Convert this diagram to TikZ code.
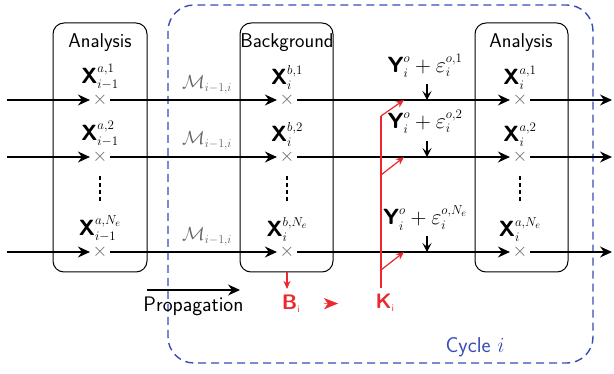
\RequirePackage{fix-cm}
\documentclass[tikz,border=0pt]{standalone}
\usepackage{amsmath, amssymb}
\usepackage{fontspec}
\usepackage{tikz}
\usetikzlibrary{
arrows.meta,
positioning,
calc
}
\definecolor{cycblue}{RGB}{55,75,185}
\definecolor{kfred}{RGB}{235,40,45}
\definecolor{modgray}{RGB}{100,100,100}
\DeclareMathSizes{22}{22}{13}{10}
\DeclareMathSizes{19}{19}{12}{9}
\newcommand{\bX}{\textsf{\textbf{X}}}
\newcommand{\bY}{\textsf{\textbf{Y}}}
\newcommand{\fsz}[1]{\fontsize{#1}{#1}\selectfont}

\begin{document}
\begin{tikzpicture}[x=1pt, y=-1pt, font=\sffamily,
  every node/.style={inner sep=1pt},
  stagebox/.style={draw, rounded corners=11pt, line width=1pt},
  boxtitle/.style={font=\fsz{20}\sffamily, anchor=base},
  member/.style={font=\fsz{19}, text=modgray, inner sep=2.5pt},
  state/.style={font=\fsz{22}},
  model/.style={font=\fsz{19}, text=modgray},
  flow/.style={-{Stealth[length=12pt, width=11pt, inset=4pt]}, line width=1.1pt},
  obsflow/.style={-{Stealth[length=9pt, width=9pt, inset=4pt]}, line width=1.1pt},
  redflow/.style={kfred, -{Stealth[length=8pt, width=7pt, inset=2.5pt]}, line width=1.2pt},
  ensdots/.style={dash pattern=on 4pt off 3pt, line width=1.3pt}
]
  \useasboundingbox (0,0) rectangle (614,374);
  % Cycle frame
  \draw[cycblue, dash pattern=on 8pt off 5pt, line width=1.4pt, rounded corners=26pt]
    (168,5) rectangle (593,363);
  \node[cycblue, font=\fsz{21.5}\sffamily] (cyc) at (475,347) {Cycle $i$};
  % Stage boxes
  \draw[stagebox] (53,23) rectangle (147,272);
  \draw[stagebox] (240,23) rectangle (333,272);
  \draw[stagebox] (475,23) rectangle (568,272);
  \node[boxtitle] (tla) at (100,48) {Analysis};
  \node[boxtitle] (tbg) at (287,48) {Background};
  \node[boxtitle] (tra) at (521,48) {Analysis};
  % Ensemble members
  \foreach \r/\y in {1/100, 2/157, 3/252} {
    \coordinate (in\r) at (7,\y);
    \coordinate (out\r) at (612,\y);
    \node[member] (a\r) at (100,\y) {$\times$};
    \node[member] (b\r) at (287,\y) {$\times$};
    \node[member] (c\r) at (520,\y) {$\times$};
    \draw[flow] (in\r) -- (a\r);
    \draw[flow] (a\r) -- (b\r);
    \draw[flow] (b\r) -- (c\r);
    \draw[flow] (c\r) -- (out\r);
  }
  \node[state, above=0pt of a1] (xa1) {$\bX^{a,1}_{i-1}$};
  \node[state, above=0pt of a2] (xa2) {$\bX^{a,2}_{i-1}$};
  \node[state, above=0pt of a3] (xa3) {$\bX^{a,N_e}_{i-1}$};
  \node[state, above=0pt of b1] (xb1) {$\bX^{b,1}_{i}$};
  \node[state, above=0pt of b2] (xb2) {$\bX^{b,2}_{i}$};
  \node[state, above=0pt of b3] (xb3) {$\bX^{b,N_e}_{i}$};
  \node[state, above=0pt of c1] (xc1) {$\bX^{a,1}_{i}$};
  \node[state, above=0pt of c2] (xc2) {$\bX^{a,2}_{i}$};
  \node[state, above=0pt of c3] (xc3) {$\bX^{a,N_e}_{i}$};
  \foreach \x in {100, 287, 520}
    \draw[ensdots] (\x,176) -- (\x,201);
  % Model operator
  \node[model] (m1) at (207,85) {$\mathcal{M}_{i-1,i}$};
  \node[model] (m2) at (207,141) {$\mathcal{M}_{i-1,i}$};
  \node[model] (m3) at (207,237) {$\mathcal{M}_{i-1,i}$};
  % Perturbed observations
  \node[state] (y1) at (425,66) {$\bY^o_i+\varepsilon^{o,1}_i$};
  \node[state] (y2) at (425,122) {$\bY^o_i+\varepsilon^{o,2}_i$};
  \node[state] (y3) at (425,218) {$\bY^o_i+\varepsilon^{o,N_e}_i$};
  \coordinate (o1) at (427,100);
  \coordinate (o2) at (427,157);
  \coordinate (o3) at (427,252);
  \draw[obsflow] (427,84) -- (o1);
  \draw[obsflow] (427,141) -- (o2);
  \draw[obsflow] (427,236) -- (o3);
  % Gain
  \node[kfred, font=\fsz{21}\sffamily\bfseries] (K) at (385,303) {K$_{\text{\fsz{10}\mdseries i}}$};
  \node[kfred, font=\fsz{21}\sffamily\bfseries] (B) at (291,304) {B$_{\text{\fsz{10}\mdseries i}}$};
  \coordinate (kbot) at (381,288);
  \coordinate (ktop) at (381,116);
  \coordinate (k2) at (381,175);
  \coordinate (k3) at (381,270);
  \draw[kfred, line width=1.2pt] (kbot) -- (ktop);
  \draw[redflow] (ktop) -- (404,100);
  \draw[redflow] (k2) -- (404,157);
  \draw[redflow] (k3) -- (404,252);
  \coordinate (bgbot) at (287,272);
  \draw[redflow] (bgbot) -- (287,289);
  \draw[kfred, line width=0.3pt, -{Stealth[length=14pt, width=11pt, inset=4pt]}]
    ($(B)!0.35!(K)$) -- ($(B)!0.5!(K)$);
  % Propagation
  \coordinate (pa) at (147,290);
  \coordinate (pb) at (240,290);
  \draw[flow] (pa) -- (pb);
  \node[font=\fsz{21}\sffamily, below=6pt of $(pa)!0.5!(pb)$] (prop) {Propagation};
\end{tikzpicture}
\end{document}
